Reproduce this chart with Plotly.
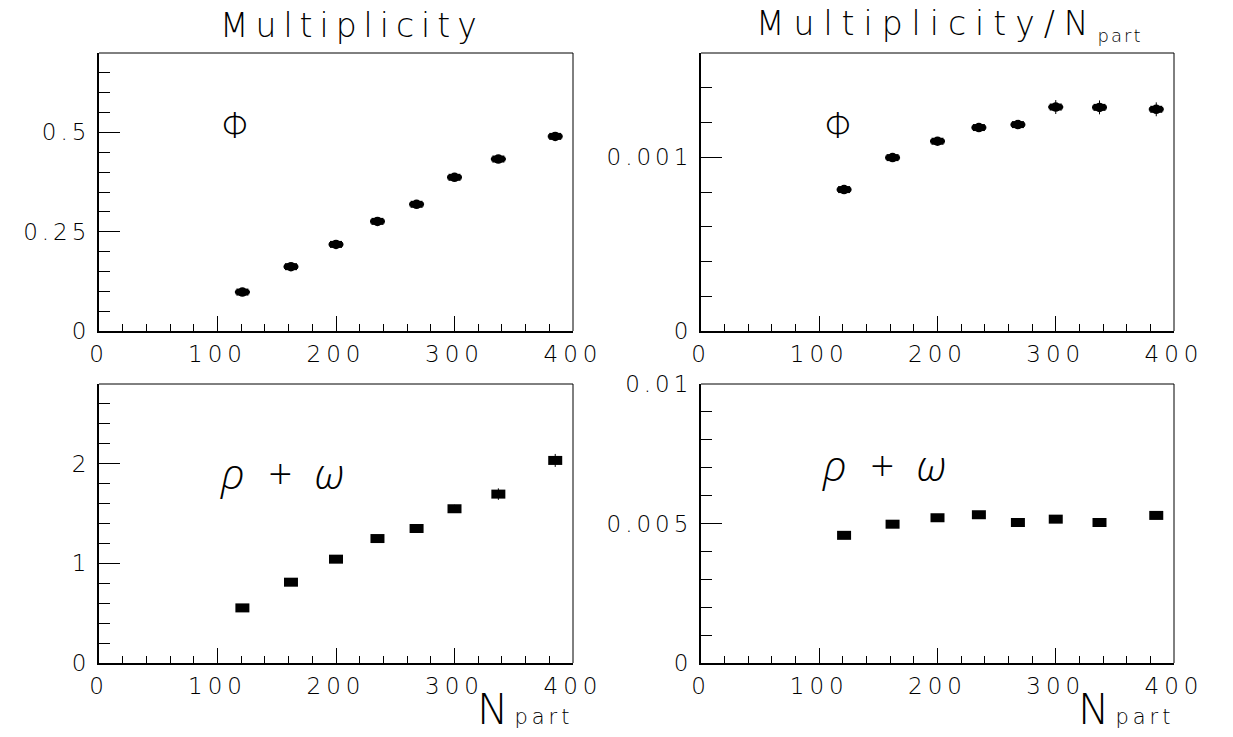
import plotly.graph_objects as go

# ---------------- data ----------------
npart = [121, 162, 200, 235, 268, 300, 337, 385]

phi_mult = [0.098, 0.162, 0.218, 0.276, 0.319, 0.387, 0.433, 0.490]
phi_mult_err = [0.002, 0.002, 0.003, 0.003, 0.003, 0.004, 0.004, 0.004]

phi_per = [0.000814, 0.000998, 0.001092, 0.001171, 0.001188, 0.001289, 0.001287, 0.001276]
phi_per_err = [0.00002, 0.00002, 0.00002, 0.00002, 0.00002, 0.00004, 0.00004, 0.00004]

rho_mult = [0.553, 0.811, 1.042, 1.249, 1.350, 1.548, 1.695, 2.033]
rho_mult_err = [0.02, 0.03, 0.03, 0.03, 0.035, 0.04, 0.058, 0.065]

rho_per = [0.004576, 0.004975, 0.005206, 0.005314, 0.005036, 0.005156, 0.005036, 0.005290]
rho_per_err = [0.0001, 0.0001, 0.0001, 0.0001, 0.0001, 0.0001, 0.0001, 0.0001]

x_tick_vals = [0, 100, 200, 300, 400]
x_tick_labels = ["0", "100", "200", "300", "400"]
tl_tick_vals = [0, 0.25, 0.5]
tl_tick_labels = ["0", "0.25", "0.5"]
tr_tick_vals = [0, 0.001]
tr_tick_labels = ["0", "0.001"]
bl_tick_vals = [0, 1, 2]
bl_tick_labels = ["0", "1", "2"]
br_tick_vals = [0, 0.005, 0.01]
br_tick_labels = ["0", "0.005", "0.01"]

# ---------------- style ----------------
FONT = "DejaVu Sans"
W, H = 1233, 737
OFF = 8  # page body margin of the browser


def px_x(p):
    return (p - OFF) / W


def px_y(p):
    return 1 - (p - OFF) / H


def spaced(t, s):
    return f"<span style='letter-spacing:{s}px'>{t}</span>"


fig = go.Figure()


def ellipse_traces(xa, ya, xs, ys, errs):
    # approximate a horizontal ellipse (15 x 9.5 px) with layered markers
    fig.add_trace(go.Scatter(
        x=xs, y=ys, xaxis=xa, yaxis=ya, mode="markers",
        marker=dict(symbol="circle", size=9.5, color="black", line=dict(width=0)),
        error_y=dict(type="data", array=errs, width=0, thickness=1, color="black"),
        showlegend=False, hoverinfo="skip"))
    for size, width in [(8.6, 7.0), (10.0, 4.6), (10.7, 2.2)]:
        fig.add_trace(go.Scatter(
            x=xs, y=ys, xaxis=xa, yaxis=ya, mode="markers",
            marker=dict(symbol="line-ew", size=size, color="black",
                        line=dict(width=width, color="black")),
            showlegend=False, hoverinfo="skip"))


def rect_traces(xa, ya, xs, ys, errs):
    fig.add_trace(go.Scatter(
        x=xs, y=ys, xaxis=xa, yaxis=ya, mode="markers",
        marker=dict(symbol="line-ew", size=10, color="black",
                    line=dict(width=9, color="black")),
        error_y=dict(type="data", array=errs, width=0, thickness=1, color="black"),
        showlegend=False, hoverinfo="skip"))


ellipse_traces("x", "y", npart, phi_mult, phi_mult_err)
ellipse_traces("x2", "y2", npart, phi_per, phi_per_err)
rect_traces("x3", "y3", npart, rho_mult, rho_mult_err)
rect_traces("x4", "y4", npart, rho_per, rho_per_err)

dom_x_left = [px_x(99), px_x(573)]
dom_x_right = [px_x(701), px_x(1174)]
dom_y_top = [px_y(331), px_y(53)]
dom_y_bot = [px_y(663), px_y(384)]

tick_font = dict(family=FONT, size=23, color="black", weight=200)


def xaxis_cfg(domain, anchor):
    return dict(
        domain=domain, anchor=anchor, range=[0, 400], automargin=False,
        showline=True, linecolor="black", linewidth=2, mirror=False,
        ticks="inside", ticklen=15, tickwidth=1, tickcolor="black",
        tickvals=x_tick_vals, ticktext=[spaced(t, 5) for t in x_tick_labels],
        tickfont=tick_font, ticklabelstandoff=1,
        minor=dict(ticks="inside", ticklen=7, tickwidth=1, tickcolor="black",
                   dtick=20, tick0=0, showgrid=False),
        showgrid=False, zeroline=False, fixedrange=True)


def yaxis_cfg(domain, anchor, rng, vals, labels, mdtick):
    return dict(
        domain=domain, anchor=anchor, range=rng, automargin=False,
        showline=True, linecolor="black", linewidth=2, mirror=False,
        ticks="inside", ticklen=21, tickwidth=1, tickcolor="black",
        tickvals=vals, ticktext=[spaced(t, 4) for t in labels],
        tickfont=tick_font, ticklabelstandoff=2,
        minor=dict(ticks="inside", ticklen=11, tickwidth=1, tickcolor="black",
                   dtick=mdtick, tick0=0, showgrid=False),
        showgrid=False, zeroline=False, fixedrange=True)


fig.update_layout(
    width=W, height=H,
    margin=dict(l=0, r=0, t=0, b=0, pad=0, autoexpand=False),
    paper_bgcolor="white", plot_bgcolor="white",
    showlegend=False,
    xaxis=xaxis_cfg(dom_x_left, "y"),
    yaxis=yaxis_cfg(dom_y_top, "x", [0, 0.7], tl_tick_vals, tl_tick_labels, 0.05),
    xaxis2=xaxis_cfg(dom_x_right, "y2"),
    yaxis2=yaxis_cfg(dom_y_top, "x2", [0, 0.0016], tr_tick_vals, tr_tick_labels, 0.0002),
    xaxis3=xaxis_cfg(dom_x_left, "y3"),
    yaxis3=yaxis_cfg(dom_y_bot, "x3", [0, 2.8], bl_tick_vals, bl_tick_labels, 0.2),
    xaxis4=xaxis_cfg(dom_x_right, "y4"),
    yaxis4=yaxis_cfg(dom_y_bot, "x4", [0, 0.01], br_tick_vals, br_tick_labels, 0.001),
)

# top / right frame lines (thin)
shapes = []
for xa, ya in [("x", "y"), ("x2", "y2"), ("x3", "y3"), ("x4", "y4")]:
    shapes.append(dict(type="line", xref=f"{xa} domain", yref=f"{ya} domain",
                       x0=0, x1=1, y0=1, y1=1, line=dict(color="black", width=1)))
    shapes.append(dict(type="line", xref=f"{xa} domain", yref=f"{ya} domain",
                       x0=1, x1=1, y0=0, y1=1, line=dict(color="black", width=1)))
fig.update_layout(shapes=shapes)

title_font = dict(family=FONT, size=33, color="black", weight=200)
label_font = dict(family=FONT, size=35, color="black", weight=200)
greek_font = dict(family="Open Sans", size=42, color="black", weight=300, style="italic")

annotations = [
    dict(text=spaced("Multiplicity", 7), x=px_x(352), y=px_y(25), xref="paper", yref="paper",
         xanchor="center", yanchor="middle", showarrow=False, font=title_font),
    dict(text=spaced("Multiplicity/N", 9) + "<sub><span style='font-size:18px;letter-spacing:2px'>part</span></sub>",
         x=px_x(949), y=px_y(25), xref="paper", yref="paper",
         xanchor="center", yanchor="middle", showarrow=False, font=title_font),
    dict(text="Φ", x=116, y=0.517, xref="x", yref="y", showarrow=False, font=label_font),
    dict(text="Φ", x=117, y=0.00118, xref="x2", yref="y2", showarrow=False, font=label_font),
    dict(text=spaced("ρ + ω", 6), x=157, y=1.91, xref="x3", yref="y3",
         showarrow=False, font=greek_font),
    dict(text=spaced("ρ + ω", 6), x=157, y=0.00712, xref="x4", yref="y4",
         showarrow=False, font=greek_font),
]
n_font = dict(family=FONT, size=42, color="black", weight=200)
for xr in [576, 1177]:
    annotations.append(dict(
        text=spaced("N", 6) + "<span style='font-size:21px;letter-spacing:4px'>part</span>",
        x=px_x(xr), y=px_y(736), xref="paper", yref="paper",
        xanchor="right", yanchor="bottom", showarrow=False, font=n_font))
fig.update_layout(annotations=annotations)

fig.write_html("out.html")
